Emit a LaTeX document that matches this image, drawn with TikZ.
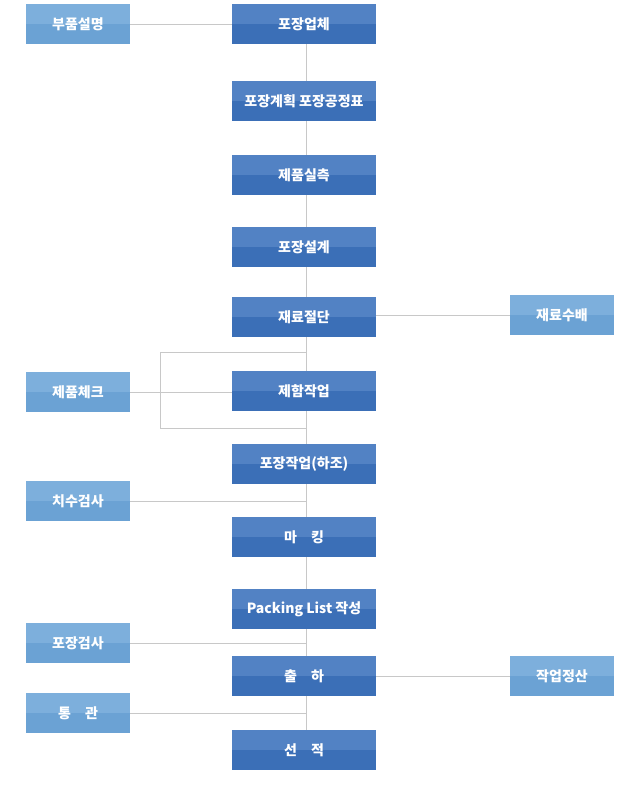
\documentclass[tikz,border=0pt]{standalone}
\usepackage{fontspec}
\newfontfamily\krfont{Noto Sans CJK KR}
\usetikzlibrary{positioning}
\definecolor{maintop}{HTML}{5282C4}
\definecolor{mainbot}{HTML}{3B6FB7}
\definecolor{subtop}{HTML}{7DAFDC}
\definecolor{subbot}{HTML}{6BA2D4}
\definecolor{linegray}{HTML}{C8C8C8}
\begin{document}
\begin{tikzpicture}[x=1pt,y=-1pt,font=\krfont\bfseries\fontsize{14}{16}\selectfont,
  twotone/.style 2 args={fill=#1,text=white,minimum height=40pt,inner sep=0pt,
    path picture={\fill[#2] (path picture bounding box.north west) rectangle (path picture bounding box.east);}},
  mainbox/.style={twotone={mainbot}{maintop},minimum width=144pt},
  subbox/.style={twotone={subbot}{subtop},minimum width=104pt},
  link/.style={draw=linegray,line width=0.9pt}]
\useasboundingbox (0,0) rectangle (636,785);
\def \mx{304};
\def \lx{78};
\def \rx{562};
% main column
\foreach \n/\y/\t in {pack/24/포장업체, plan/101/포장계획 포장공정표, meas/175/제품실측,
    design/247/포장설계, cut/317/재료절단, case/391/제함작업, work/464/포장작업(하조),
    mark/537/마\quad 킹, plist/609/Packing List 작성, ship/676/출\quad 하, load/750/선\quad 적}{
  \node[mainbox] (\n) at (\mx,\y) {\t};}
% side boxes
\foreach \n/\x/\y/\t in {parts/\lx/24/부품설명, check/\lx/392/제품체크, size/\lx/501/치수검사,
    insp/\lx/643/포장검사, customs/\lx/713/통\quad 관, order/\rx/315/재료수배, settle/\rx/676/작업정산}{
  \node[subbox] (\n) at (\x,\y) {\t};}
% spine
\foreach \a/\b in {pack/plan,plan/meas,meas/design,design/cut,cut/case,case/work,
    work/mark,mark/plist,plist/ship,ship/load}{
  \draw[link] ([xshift=2pt]\a.south) -- ([xshift=2pt]\b.north);}
% side links
\draw[link] (parts.east) -- (pack.west);
\draw[link] (order.west) -- (order -| cut.east);
\draw[link] (settle.west) -- (ship.east);
\draw[link] (check.east) -- (check -| case.west);
\foreach \n in {size,insp,customs}{\draw[link] (\n.east) -- ([xshift=2pt]\n -| pack.center);}
\coordinate (brtop) at (160,352);
\coordinate (brbot) at (160,428);
\draw[link] ([xshift=2pt]brtop -| cut.south) -- (brtop) -- (brbot) -- ([xshift=2pt]brbot -| case.south);
\end{tikzpicture}
\end{document}
